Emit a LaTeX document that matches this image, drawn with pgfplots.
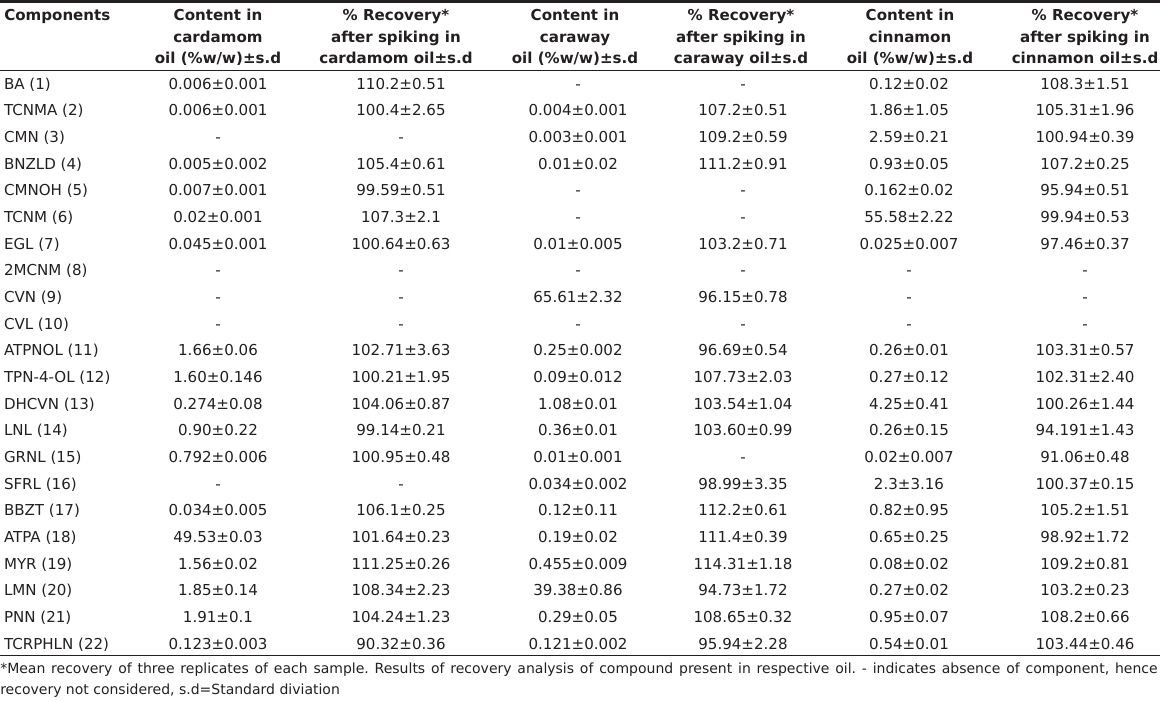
\documentclass[border=0pt]{standalone}
\usepackage{fontspec}
\setmainfont{DejaVu Sans}
\usepackage{pgfplots}
\usepackage{pgfplotstable}
\pgfplotsset{compat=1.18}
\frenchspacing
\definecolor{txt}{HTML}{231F20}
\pgfplotstableread[col sep=comma]{
y,comp,a,b,c,d,e,f
89,BA (1),0.006±0.001,110.2±0.51,-,-,0.12±0.02,108.3±1.51
115.67,TCNMA (2),0.006±0.001,100.4±2.65,0.004±0.001,107.2±0.51,1.86±1.05,105.31±1.96
142.33,CMN (3),-,-,0.003±0.001,109.2±0.59,2.59±0.21,100.94±0.39
169,BNZLD (4),0.005±0.002,105.4±0.61,0.01±0.02,111.2±0.91,0.93±0.05,107.2±0.25
195.67,CMNOH (5),0.007±0.001,99.59±0.51,-,-,0.162±0.02,95.94±0.51
222.33,TCNM (6),0.02±0.001,107.3±2.1,-,-,55.58±2.22,99.94±0.53
249,EGL (7),0.045±0.001,100.64±0.63,0.01±0.005,103.2±0.71,0.025±0.007,97.46±0.37
275.67,2MCNM (8),-,-,-,-,-,-
302.33,CVN (9),-,-,65.61±2.32,96.15±0.78,-,-
329,CVL (10),-,-,-,-,-,-
355.67,ATPNOL (11),1.66±0.06,102.71±3.63,0.25±0.002,96.69±0.54,0.26±0.01,103.31±0.57
382.33,TPN-4-OL (12),1.60±0.146,100.21±1.95,0.09±0.012,107.73±2.03,0.27±0.12,102.31±2.40
409,DHCVN (13),0.274±0.08,104.06±0.87,1.08±0.01,103.54±1.04,4.25±0.41,100.26±1.44
435.67,LNL (14),0.90±0.22,99.14±0.21,0.36±0.01,103.60±0.99,0.26±0.15,94.191±1.43
462.33,GRNL (15),0.792±0.006,100.95±0.48,0.01±0.001,-,0.02±0.007,91.06±0.48
489,SFRL (16),-,-,0.034±0.002,98.99±3.35,2.3±3.16,100.37±0.15
515.67,BBZT (17),0.034±0.005,106.1±0.25,0.12±0.11,112.2±0.61,0.82±0.95,105.2±1.51
542.33,ATPA (18),49.53±0.03,101.64±0.23,0.19±0.02,111.4±0.39,0.65±0.25,98.92±1.72
569,MYR (19),1.56±0.02,111.25±0.26,0.455±0.009,114.31±1.18,0.08±0.02,109.2±0.81
595.67,LMN (20),1.85±0.14,108.34±2.23,39.38±0.86,94.73±1.72,0.27±0.02,103.2±0.23
622.33,PNN (21),1.91±0.1,104.24±1.23,0.29±0.05,108.65±0.32,0.95±0.07,108.2±0.66
649,TCRPHLN (22),0.123±0.003,90.32±0.36,0.121±0.002,95.94±2.28,0.54±0.01,103.44±0.46
}\datatable
\newcommand{\tf}{\fontsize{11.3}{13}\selectfont}
\begin{document}
\begin{tikzpicture}
\begin{axis}[
  scale only axis, width=870pt, height=525.75pt,
  xmin=0, xmax=1160, ymin=0, ymax=701, y dir=reverse,
  hide axis, clip=false,
  point meta=explicit symbolic,
  nodes near coords,
  every node near coord/.append style={anchor=base, inner sep=0pt, outer sep=0pt, font=\tf, text=txt, yshift=0pt},
]
% rules
\draw[txt, line width=1.9pt] (axis cs:0,1.3) -- (axis cs:1160,1.3);
\draw[txt, line width=0.8pt] (axis cs:0,70.2) -- (axis cs:1160,70.2);
\draw[txt, line width=0.8pt] (axis cs:0,655.6) -- (axis cs:1160,655.6);
% headers
\begin{scope}[every node/.style={anchor=base, inner sep=0pt, font=\tf\bfseries, text=txt}]
\node[anchor=base west] at (axis cs:4,20.5) {Components};
\node at (axis cs:218,20.5) {Content in};
\node at (axis cs:218,42) {cardamom};
\node at (axis cs:218,63.3) {oil (\%w/w)±s.d};
\node at (axis cs:396,20.5) {\% Recovery*};
\node at (axis cs:396,42) {after spiking in};
\node at (axis cs:396,63.3) {cardamom oil±s.d};
\node at (axis cs:575,20.5) {Content in};
\node at (axis cs:575,42) {caraway};
\node at (axis cs:575,63.3) {oil (\%w/w)±s.d};
\node at (axis cs:741,20.5) {\% Recovery*};
\node at (axis cs:741,42) {after spiking in};
\node at (axis cs:741,63.3) {caraway oil±s.d};
\node at (axis cs:910,20.5) {Content in};
\node at (axis cs:910,42) {cinnamon};
\node at (axis cs:910,63.3) {oil (\%w/w)±s.d};
\node at (axis cs:1085,20.5) {\% Recovery*};
\node at (axis cs:1085,42) {after spiking in};
\node at (axis cs:1085,63.3) {cinnamon oil±s.d};
\end{scope}
% data
\addplot[draw=none, every node near coord/.append style={anchor=base west}] table[x expr=4, y=y, meta=comp] \datatable;
\addplot[draw=none] table[x expr=218, y=y, meta=a] \datatable;
\addplot[draw=none] table[x expr=401, y=y, meta=b] \datatable;
\addplot[draw=none] table[x expr=578, y=y, meta=c] \datatable;
\addplot[draw=none] table[x expr=743, y=y, meta=d] \datatable;
\addplot[draw=none] table[x expr=909, y=y, meta=e] \datatable;
\addplot[draw=none] table[x expr=1085, y=y, meta=f] \datatable;
% footnote
\begin{scope}[every node/.style={anchor=base west, inner sep=0pt, font=\fontsize{10.5}{12}\selectfont, text=txt}]
\node at (axis cs:0,673) {\makebox[868pt][s]{*Mean recovery of three replicates of each sample. Results of recovery analysis of compound present in respective oil. - indicates absence of component, hence}};
\node at (axis cs:0,694) {recovery not considered, s.d=Standard diviation};
\end{scope}
\end{axis}
\pgfresetboundingbox
\path (current axis.south west) rectangle (current axis.north east);
\end{tikzpicture}
\end{document}
